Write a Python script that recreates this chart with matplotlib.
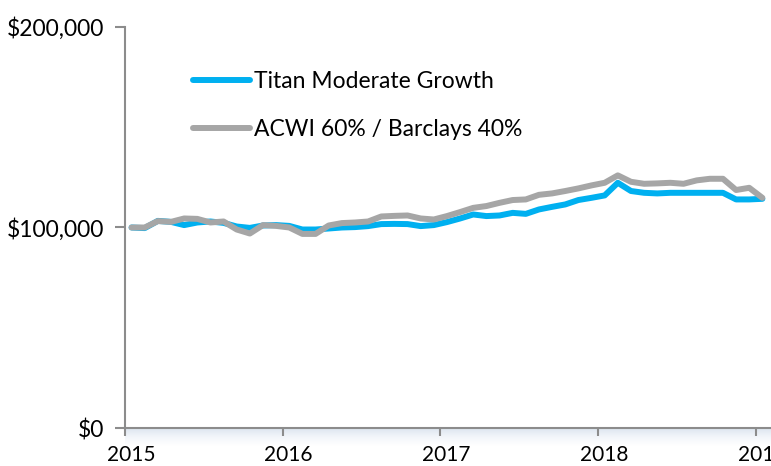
import matplotlib
matplotlib.use("Agg")
import matplotlib.pyplot as plt
import matplotlib.transforms as mtransforms
import numpy as np
from matplotlib.colors import LinearSegmentedColormap

# ---- data (values in $1000s, monthly from Jan 2015 to Jan 2019) ----
start_year = 2015
n_months = 49
titan = [100.0, 99.7, 103.3, 102.8, 101.2, 102.5, 103.0, 102.3, 100.5, 99.8,
         101.0, 101.2, 100.8, 99.0, 99.0, 99.5, 100.0, 100.2, 100.7, 101.7,
         101.8, 101.7, 100.7, 101.2, 102.7, 104.5, 106.5, 105.7, 106.0, 107.3,
         106.8, 109.0, 110.3, 111.5, 113.7, 114.8, 116.0, 122.3, 118.2, 117.3,
         117.0, 117.3, 117.3, 117.3, 117.3, 117.3, 114.0, 114.0, 114.3]
acwi = [100.0, 100.0, 103.2, 102.8, 104.5, 104.3, 102.5, 103.0, 99.0, 97.0,
        101.2, 100.8, 100.0, 96.8, 96.8, 101.0, 102.2, 102.5, 103.0, 105.5,
        105.8, 106.0, 104.5, 104.0, 105.7, 107.7, 109.8, 110.7, 112.3, 113.7,
        114.0, 116.3, 117.0, 118.2, 119.5, 121.0, 122.3, 126.0, 122.8, 121.8,
        122.0, 122.3, 121.8, 123.5, 124.3, 124.3, 118.7, 119.8, 114.8]
series_names = ["Titan Moderate Growth", "ACWI 60% / Barclays 40%"]
year_ticks = [2015, 2016, 2017, 2018, 2019]
y_ticks = [0, 100000, 200000]
y_tick_labels = ["$0", "$100,000", "$200,000"]

blue = "#00B0F0"
gray = "#A6A6A6"
axis_gray = "#8C8C8C"

W, H = 771, 466
fig = plt.figure(figsize=(W / 100, H / 100), dpi=100)
plt.rcParams["font.family"] = ["Lato", "DejaVu Sans"]

ax_left, ax_bottom_px, ax_top_px = 125, 428, 27
year_px = 157.7
xmax = 2019.25
ax_w = (xmax - 2015) * year_px
ax_h = ax_bottom_px - ax_top_px
ax = fig.add_axes([ax_left / W, (H - ax_bottom_px) / H, ax_w / W, ax_h / H])

# shadow under x axis
sh_h = 18
sh = fig.add_axes([ax_left / W, (H - ax_bottom_px - sh_h) / H, ax_w / W, sh_h / H])
grad = np.linspace(0, 1, 50).reshape(-1, 1)
cm = LinearSegmentedColormap.from_list("sh", ["#DAE3EE", "#F2F5FA", "#FFFFFF"])
sh.imshow(grad, aspect="auto", cmap=cm, extent=[0, 1, 0, 1], origin="upper")
sh.set_axis_off()
sh.set_zorder(0)
ax.set_zorder(1)

x = [start_year + (i + 0.5) / 12 for i in range(n_months)]
ax.plot(x, np.array(titan) * 1000, color=blue, lw=4.3, solid_capstyle="round",
        solid_joinstyle="round", label=series_names[0], zorder=3)
ax.plot(x, np.array(acwi) * 1000, color=gray, lw=4.3, solid_capstyle="round",
        solid_joinstyle="round", label=series_names[1], zorder=4)

ax.set_xlim(2015, xmax)
ax.set_ylim(0, 200000)
ax.set_xticks(year_ticks)
ax.set_xticklabels([str(y) for y in year_ticks])
ax.set_yticks(y_ticks)
ax.set_yticklabels(y_tick_labels)

for s in ["top", "right"]:
    ax.spines[s].set_visible(False)
for s in ["left", "bottom"]:
    ax.spines[s].set_color(axis_gray)
    ax.spines[s].set_linewidth(1.5)
    ax.spines[s].set_zorder(5)
ax.tick_params(axis="y", length=7, width=1.5, color=axis_gray, labelsize=16.5,
               pad=8, direction="out")
ax.tick_params(axis="x", length=6, width=1.5, color=axis_gray, labelsize=15,
               pad=6, direction="out")
ax.patch.set_alpha(0)

offset = mtransforms.ScaledTranslation(6 / 100, 0, fig.dpi_scale_trans)
for lbl in ax.get_xticklabels():
    lbl.set_transform(lbl.get_transform() + offset)

leg = ax.legend(loc="upper left",
                bbox_to_anchor=((193 - ax_left) / ax_w, (ax_bottom_px - 71) / ax_h),
                frameon=False, fontsize=16.5, handlelength=2.5,
                handletextpad=0.15, labelspacing=1.2, borderaxespad=0,
                borderpad=0)
for lh in leg.get_lines():
    lh.set_linewidth(4.3)
    lh.set_solid_capstyle("round")

fig.savefig("out.png", dpi=100)
